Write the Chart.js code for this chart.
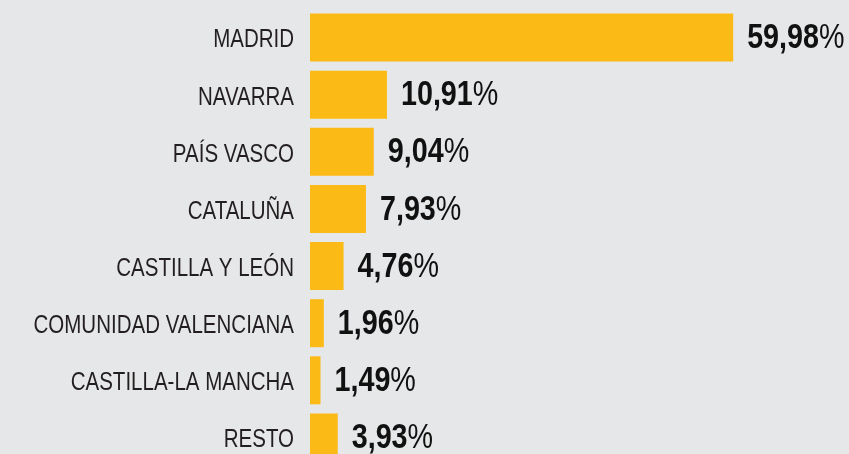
<!DOCTYPE html>
<html lang="es">
<head>
<meta charset="utf-8">
<title>Distribución por comunidad</title>
<script src="https://cdn.jsdelivr.net/npm/chart.js@4/dist/chart.umd.min.js"></script>
<style>
  html, body { margin: 0; padding: 0; background: #e6e7e8; overflow: hidden; }
  #wrap { position: relative; width: 849px; height: 470px; }
</style>
</head>
<body>
<div id="wrap"><canvas id="chart"></canvas></div>
<script>
// regiones y porcentajes
const REGIONES = ["MADRID", "NAVARRA", "PAÍS VASCO", "CATALUÑA", "CASTILLA Y LEÓN",
                  "COMUNIDAD VALENCIANA", "CASTILLA-LA MANCHA", "RESTO"];
const PORCENTAJES = [59.98, 10.91, 9.04, 7.93, 4.76, 1.96, 1.49, 3.93];

const AMARILLO = "#fcba16";
const FONT = "'Liberation Sans', Arial, sans-serif";
const NARROW = 0.82;   // compresión horizontal, imita una fuente condensada

const fmtPct = v => v.toFixed(2).replace(".", ",");

// texto condensado: escala en x y dibuja
function narrowText(ctx, txt, x, y) {
  ctx.save();
  ctx.translate(x, y);
  ctx.scale(NARROW, 1);
  ctx.fillText(txt, 0, 0);
  ctx.restore();
  return ctx.measureText(txt).width * NARROW;
}

// nombres de región a la izquierda, alineados a la escala y
const regionLabels = {
  id: "regionLabels",
  afterDraw(chart) {
    const ctx = chart.ctx;
    const y = chart.scales.y;
    ctx.save();
    ctx.fillStyle = "#231f20";
    ctx.font = "25px " + FONT;
    ctx.textBaseline = "middle";
    ctx.textAlign = "right";
    REGIONES.forEach((r, i) => {
      narrowText(ctx, r, y.right - 16, y.getPixelForTick(i) + 3);
    });
    ctx.restore();
  }
};

// número en negrita + "%" normal, a la derecha de cada barra
const valueLabels = {
  id: "valueLabels",
  afterDatasetsDraw(chart) {
    const ctx = chart.ctx;
    const meta = chart.getDatasetMeta(0);
    ctx.save();
    ctx.fillStyle = "#111";
    ctx.textBaseline = "middle";
    ctx.textAlign = "left";
    meta.data.forEach((bar, i) => {
      const x = bar.x + 14;
      const y = bar.y + 1;
      ctx.font = "bold 35px " + FONT;
      const w = narrowText(ctx, fmtPct(PORCENTAJES[i]), x, y);
      ctx.font = "35px " + FONT;
      narrowText(ctx, "%", x + w, y);
    });
    ctx.restore();
  }
};

new Chart(document.getElementById("chart"), {
  type: "bar",
  data: {
    labels: REGIONES,
    datasets: [{
      data: PORCENTAJES,
      backgroundColor: AMARILLO,
      borderWidth: 0,
      barPercentage: 0.84,
      categoryPercentage: 1,
    }],
  },
  plugins: [valueLabels, regionLabels],
  options: {
    indexAxis: "y",
    responsive: true,
    maintainAspectRatio: false,
    animation: false,
    layout: { padding: { top: 9, bottom: 4, left: 0, right: 0 } },
    plugins: { legend: { display: false }, tooltip: { enabled: false } },
    scales: {
      x: { display: false, min: 0, max: 76.4 },
      y: {
        grid: { display: false, drawTicks: false },
        border: { display: false },
        ticks: { display: false },
        afterFit(scale) {
          scale.width = 310;
          scale.paddingTop = 0;
          scale.paddingBottom = 0;
        },
      },
    },
  },
});
</script>
</body>
</html>
